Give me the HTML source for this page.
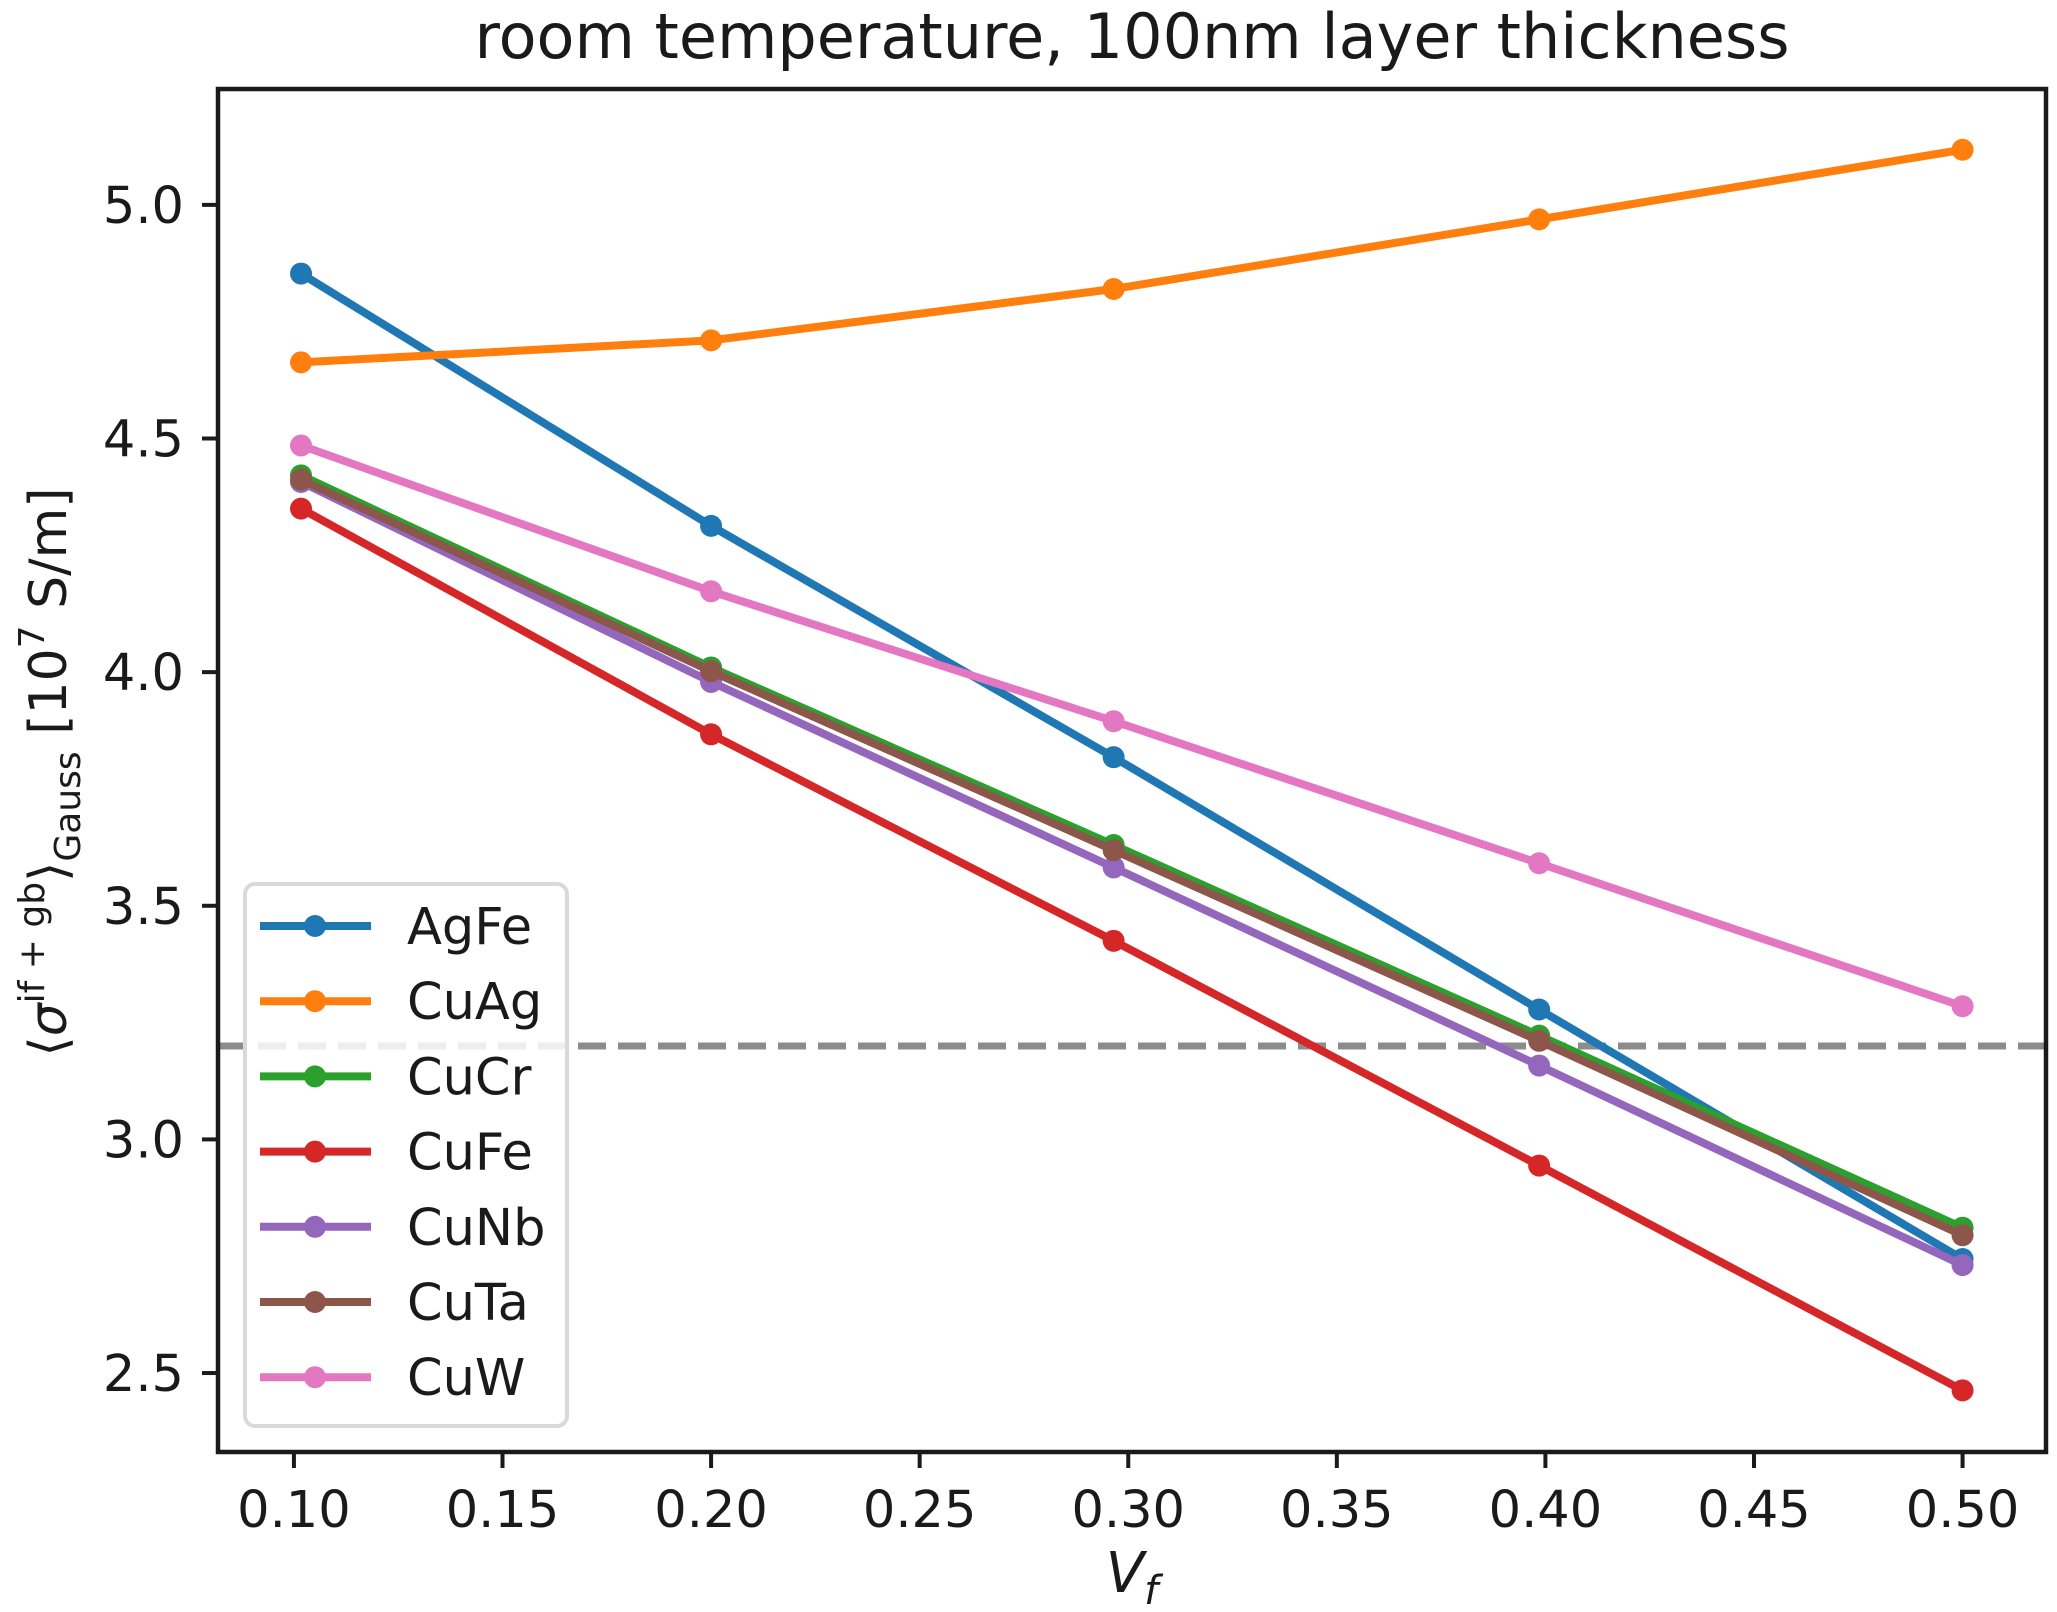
<!DOCTYPE html>
<html><head><meta charset="utf-8"><style>
html,body{margin:0;padding:0;background:#fff;}
svg{display:block;font-family:"DejaVu Sans","Liberation Sans",sans-serif;}
</style></head><body>
<svg id="chart" width="2057" height="1612" viewBox="0 0 2057 1612" xmlns="http://www.w3.org/2000/svg">
<text x="1132" y="58" font-size="62" text-anchor="middle" fill="#1a1a1a">room temperature, 100nm layer thickness</text>
<g id="plot"></g>
<text x="1132" y="1592" font-size="56" font-style="italic" text-anchor="middle" fill="#1a1a1a">V<tspan font-size="40" dy="12">f</tspan></text>
<text transform="translate(66,772) rotate(-90)" font-size="52" text-anchor="middle" fill="#1a1a1a">⟨<tspan font-style="italic">σ</tspan><tspan font-size="36" dy="-22">if + gb</tspan><tspan dy="22">⟩</tspan><tspan font-size="36" dy="14">Gauss</tspan><tspan dy="-14"> [10</tspan><tspan font-size="36" dy="-22">7</tspan><tspan dy="22"> S/m]</tspan></text>
</svg>
<script>
const xVals = [0.1017, 0.2, 0.2965, 0.3985, 0.5];
const seriesNames = ["AgFe","CuAg","CuCr","CuFe","CuNb","CuTa","CuW"];
const agFe = [4.853, 4.313, 3.818, 3.278, 2.744];
const cuAg = [4.663, 4.710, 4.820, 4.969, 5.118];
const cuCr = [4.421, 4.010, 3.630, 3.222, 2.811];
const cuFe = [4.350, 3.867, 3.425, 2.944, 2.463];
const cuNb = [4.407, 3.979, 3.582, 3.158, 2.731];
const cuTa = [4.412, 4.002, 3.619, 3.211, 2.795];
const cuW = [4.485, 4.173, 3.895, 3.591, 3.285];
const refLine = 3.2;
const xTicks = [0.10,0.15,0.20,0.25,0.30,0.35,0.40,0.45,0.50];
const yTicks = [2.5,3.0,3.5,4.0,4.5,5.0];

const colors = ["#1f77b4","#ff7f0e","#2ca02c","#d62728","#9467bd","#8c564b","#e377c2"];
const allSeries = [agFe,cuAg,cuCr,cuFe,cuNb,cuTa,cuW];
const L=218,R=2046,T=89,B=1452;
const xMin=0.0818,xMax=0.52,yMin=2.331,yMax=5.248;
const sx=v=>L+(v-xMin)/(xMax-xMin)*(R-L);
const sy=v=>B-(v-yMin)/(yMax-yMin)*(B-T);
const NS="http://www.w3.org/2000/svg";
const g=document.getElementById('plot');
function mk(tag,attrs,parent){const e=document.createElementNS(NS,tag);for(const k in attrs)e.setAttribute(k,attrs[k]);(parent||g).appendChild(e);return e;}

const rl=mk('line',{x1:L,x2:R,y1:sy(refLine),y2:sy(refLine),stroke:'#8c8c8c','stroke-width':7,'stroke-dasharray':'28 12'});



allSeries.forEach((s,i)=>{
  const grp=mk('g',{});
  
  
  const pts=s.map((v,j)=>sx(xVals[j])+','+sy(v)).join(' ');
  const pl=mk('polyline',{points:pts,fill:'none',stroke:colors[i],'stroke-width':8,'stroke-linejoin':'round'},grp);
  
  
  s.forEach((v,j)=>{
    const c=mk('circle',{cx:sx(xVals[j]),cy:sy(v),r:11,fill:colors[i]},grp);
    
    
  });
});

const fr=mk('rect',{x:L,y:T,width:R-L,height:B-T,fill:'none',stroke:'#1a1a1a','stroke-width':4.5});



xTicks.forEach(t=>{
  const x=sx(t);
  const tk=mk('line',{x1:x,x2:x,y1:B,y2:B+16,stroke:'#1a1a1a','stroke-width':4});
  
  
  const tx=mk('text',{x:x,y:1527,'font-size':51,'text-anchor':'middle',fill:'#1a1a1a'});
  tx.textContent=t.toFixed(2);
  
  
});
yTicks.forEach(t=>{
  const y=sy(t);
  const tk=mk('line',{x1:L-16,x2:L,y1:y,y2:y,stroke:'#1a1a1a','stroke-width':4});
  
  
  const tx=mk('text',{x:184,y:y+18,'font-size':51,'text-anchor':'end',fill:'#1a1a1a'});
  tx.textContent=t.toFixed(1);
  
  
});

const lg=mk('g',{});


mk('rect',{x:245,y:884,width:322,height:542,rx:10,fill:'#fff','fill-opacity':0.85,stroke:'#d9d9d9','stroke-width':4},lg);
seriesNames.forEach((n,i)=>{
  const y=926+i*75.2;
  const e=mk('g',{},lg);
  
  
  mk('line',{x1:260,x2:371,y1:y,y2:y,stroke:colors[i],'stroke-width':8},e);
  mk('circle',{cx:315,cy:y,r:11,fill:colors[i]},e);
  const t=mk('text',{x:407,y:y+18,'font-size':51,fill:'#1a1a1a'},e);
  t.textContent=n;
});
</script>
</body></html>
